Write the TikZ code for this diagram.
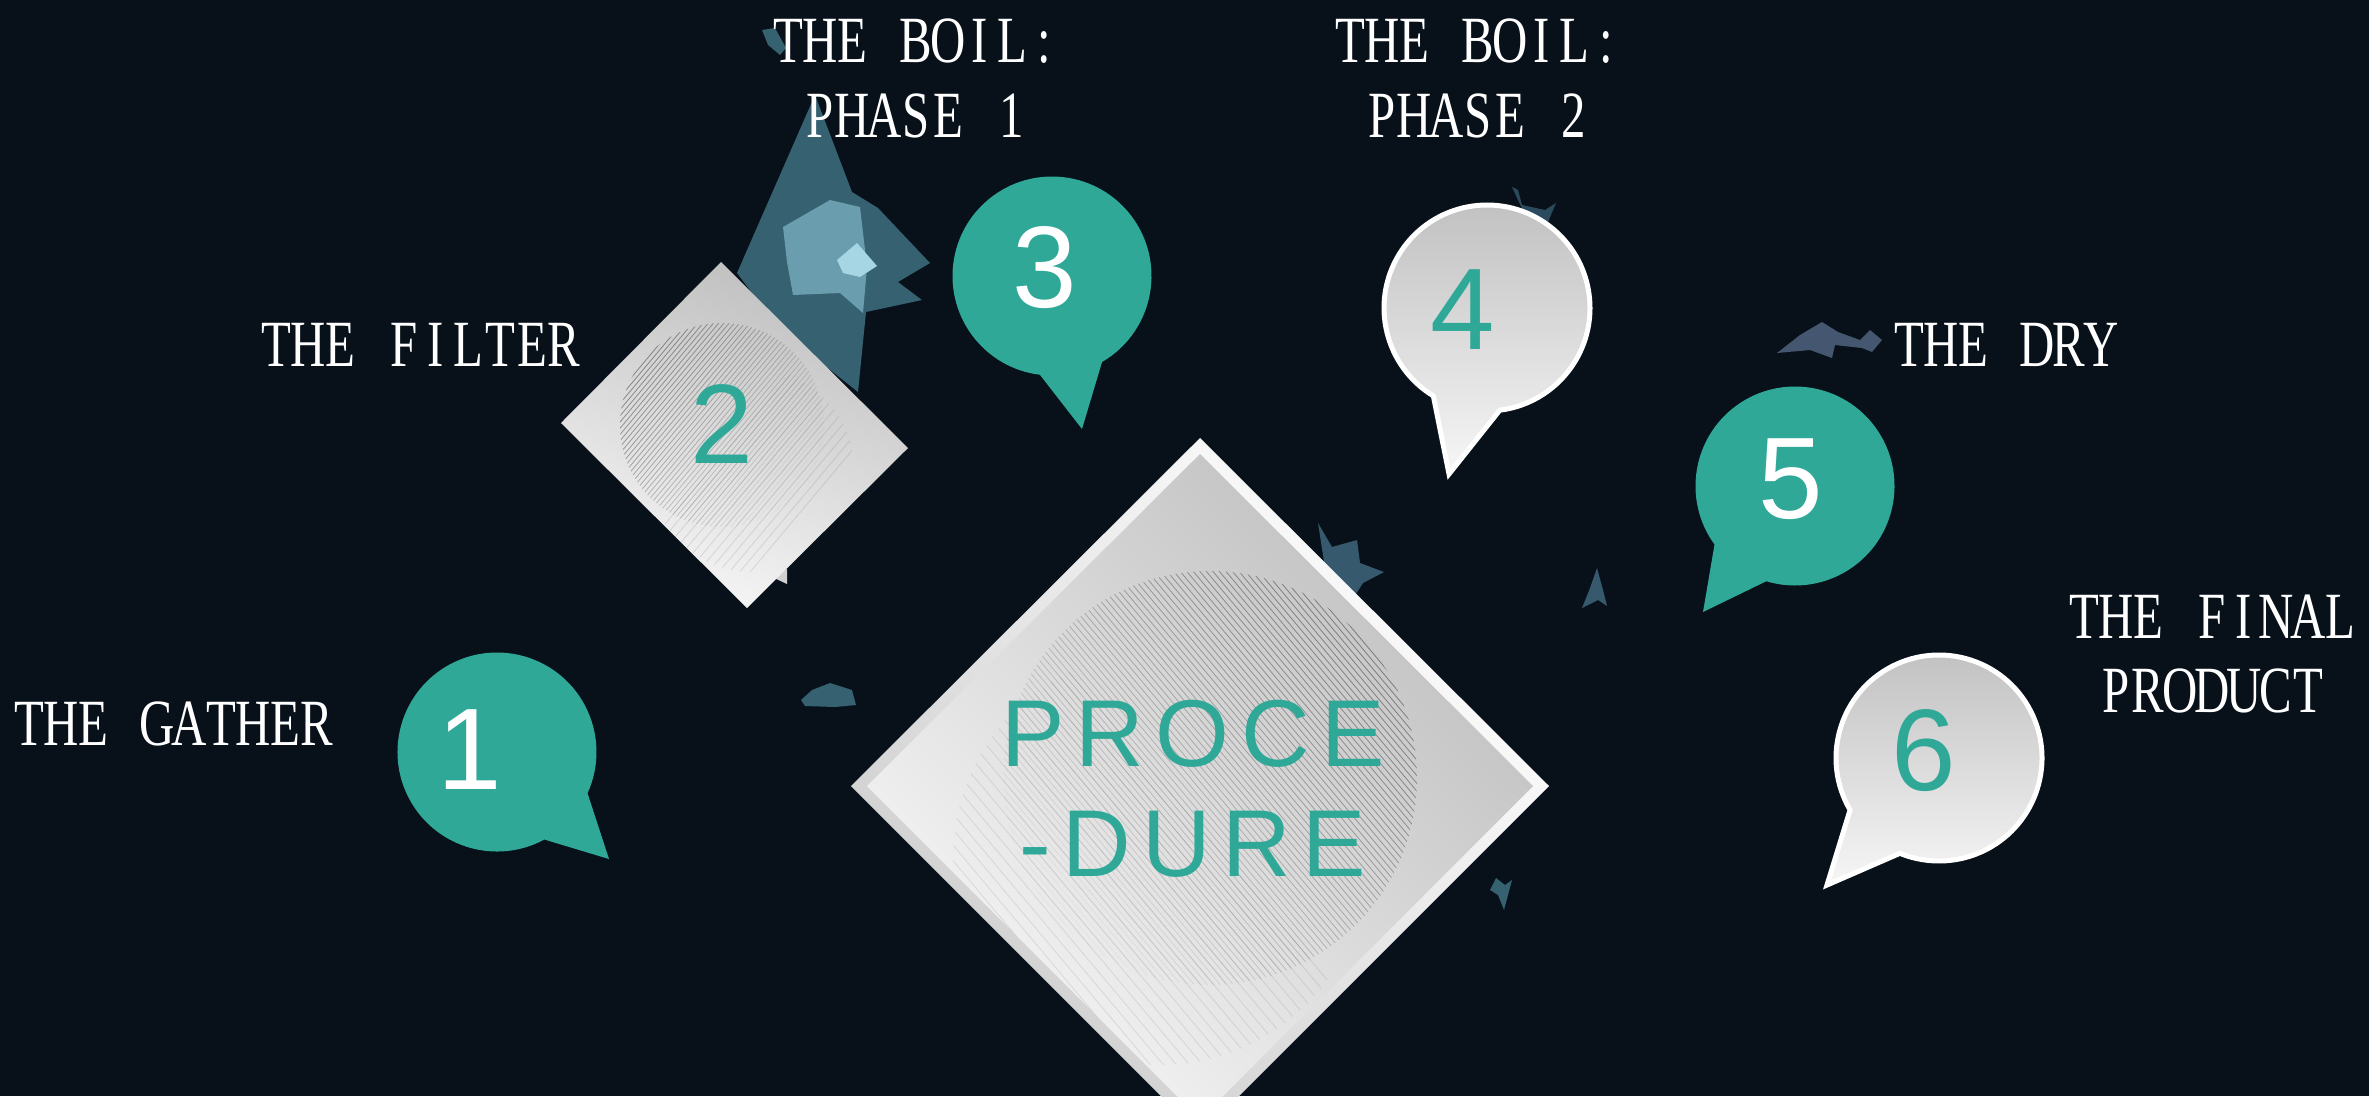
\documentclass[tikz,border=0pt]{standalone}
\usepackage{fontspec}
\usetikzlibrary{calc}
\newfontfamily\labfont[FakeStretch=0.74]{Liberation Serif}
\newfontfamily\numfont{Liberation Sans}
\newfontfamily\procfont[LetterSpace=12]{Liberation Sans}
\definecolor{bg}{HTML}{08111A}
\definecolor{tealc}{HTML}{2FA898}
\definecolor{grayA}{HTML}{BFBFBF}
\definecolor{grayB}{HTML}{F6F6F6}
\definecolor{blobA}{HTML}{3C6A7B}
\definecolor{blobB}{HTML}{6A9DAD}
\definecolor{blobC}{HTML}{A6D6E4}
\definecolor{blobD}{HTML}{36596E}
\definecolor{blobE}{HTML}{445670}
\newcommand\monochars[1]{\monoA#1\monoEnd}
\def\monoEnd{}
\def\monoA#1{\ifx#1\monoEnd\else\makebox[32pt]{#1}\expandafter\monoA\fi}
\begin{document}
\begin{tikzpicture}[x=1pt,y=-1pt,
  lab/.style={text=white, font=\labfont\fontsize{66}{75}\selectfont, inner sep=0pt, anchor=base},
  num/.style={font=\numfont\fontsize{116}{116}\selectfont, inner sep=0pt},
  proc/.style={text=tealc, font=\procfont\fontsize{95}{110}\selectfont, inner sep=0pt, anchor=base},
  hatch/.style={draw=black!60, line width=0.8pt},
  graybub/.style={top color=grayA, bottom color=grayB, draw=white, line width=5pt},
  bub/.style n args={4}{insert path={($(#1)+(#2:#4)$) -- (#1-tip) -- ($(#1)+(#3:#4)$) arc[start angle=#3, end angle={#2+360}, radius=#4] -- cycle}}
]
\fill[bg] (0,0) rectangle (2369,1096);
\useasboundingbox (0,0) rectangle (2369,1096);
\clip (0,0) rectangle (2369,1096);

% decorative blobs
\fill[blobA, opacity=0.9] (815,95) -- (852,192) -- (878,208) -- (930,263) -- (898,282) -- (922,300) -- (866,312) -- (858,392) -- (780,330) -- (737,273) -- cycle;
\fill[blobB] (783,227) -- (830,200) -- (860,207) -- (867,267) -- (863,313) -- (840,293) -- (793,295) -- (787,262) -- cycle;
\fill[blobC] (837,260) -- (857,243) -- (877,266) -- (860,277) -- (843,273) -- cycle;
\fill[blobA, opacity=0.9] (762,30) -- (775,28) -- (786,48) -- (780,55) -- (768,45) -- cycle;
\fill[blobA, opacity=0.9] (801,700) -- (812,690) -- (830,683) -- (852,690) -- (856,705) -- (835,707) -- (805,706) -- cycle;
\fill[blobD] (1318,523) -- (1332,547) -- (1357,540) -- (1360,563) -- (1384,572) -- (1363,583) -- (1352,600) -- (1330,600) -- cycle;
\fill[blobD] (1597,568) -- (1603,590) -- (1607,606) -- (1598,600) -- (1582,608) -- (1590,588) -- cycle;
\fill[blobE] (1777,353) -- (1800,335) -- (1822,322) -- (1838,332) -- (1860,340) -- (1870,330) -- (1882,340) -- (1872,352) -- (1862,348) -- (1835,345) -- (1832,358) -- (1810,350) -- cycle;
\fill[blobD, opacity=0.8] (1512,187) -- (1518,190) -- (1522,205) -- (1545,210) -- (1556,203) -- (1548,222) -- (1525,215) -- cycle;
\fill[blobA, opacity=0.9] (1496,878) -- (1505,885) -- (1512,880) -- (1508,895) -- (1504,910) -- (1498,895) -- (1490,890) -- cycle;

% small diamond (2)
\coordinate (sd-t) at (721,262);
\coordinate (sd-r) at (908,448);
\coordinate (sd-b) at (747,608);
\coordinate (sd-l) at (561,423);
\coordinate (sc) at (722,425);
\fill[black!18] (772,577) -- (787,569) -- (787,584) -- cycle;
\shade[top color=grayA, bottom color=grayB, shading angle=-20] (sd-t) -- (sd-r) -- (sd-b) -- (sd-l) -- cycle;
\begin{scope}
\clip (sc) circle[radius=102];
\begin{scope}[shift={(sc)}, rotate=50]
\foreach \t in {-104,-100,...,104}{
  \pgfmathsetmacro\op{max(0.05,0.75*(1-(\t+104)/210))}
  \draw[hatch, draw opacity=\op] (-130,\t) -- (130,\t);
}
\end{scope}
\end{scope}
\begin{scope}
\clip (sd-t) -- (sd-r) -- (sd-b) -- (sd-l) -- cycle;
\clip ($(sc)+(30,45)$) circle[radius=102];
\begin{scope}[shift={(sc)}, rotate=50]
\foreach \t in {20,28,...,120}{
  \draw[hatch, draw opacity=0.18] (-130,\t) -- (130,\t);
}
\end{scope}
\end{scope}
\node[num, text=tealc, font=\numfont\fontsize{113}{113}\selectfont] (n2) at (722,424) {2};

% speech bubbles
\coordinate (b1) at (497,752); \coordinate (b1-tip) at (609,859);
\coordinate (b3) at (1052,276); \coordinate (b3-tip) at (1082,429);
\coordinate (b4) at (1487,308); \coordinate (b4-tip) at (1449,474);
\coordinate (b5) at (1795,486); \coordinate (b5-tip) at (1703,612);
\coordinate (b6) at (1939,758); \coordinate (b6-tip) at (1827,885);
\fill[tealc, bub={b1}{24.5}{61.6}{99.5}];
\fill[tealc, bub={b3}{59.8}{97}{99.5}];
\fill[tealc, bub={b5}{106.8}{144}{99.5}];
\path[graybub, bub={b4}{82.9}{121.4}{103}];
\path[graybub, bub={b6}{112.3}{149.7}{103}];
\node[num, text=white] (n1) at (470,750) {1};
\node[num, text=white] (n3) at (1045,268) {3};
\node[num, text=tealc] (n4) at (1463,310) {4};
\node[num, text=white] (n5) at (1791,479) {5};
\node[num, text=tealc] (n6) at (1924,751) {6};

% main diamond
\coordinate (md-t) at (1200,438);
\coordinate (md-r) at (1549,786);
\coordinate (md-b) at (1200,1135);
\coordinate (md-l) at (851,786);
\coordinate (mc) at (1210,778);
\shade[top color=white, bottom color=black!20, shading angle=-45] (md-t) -- (md-r) -- (md-b) -- (md-l) -- cycle;
\shade[top color=grayA, bottom color=grayB, shading angle=-45] (1200,454) -- (1533,786) -- (1200,1119) -- (867,786) -- cycle;
\begin{scope}
\clip (mc) circle[radius=207];
\begin{scope}[shift={(mc)}, rotate=-50]
\foreach \t in {-210,-205,...,210}{
  \pgfmathsetmacro\op{max(0.05,0.8*(1-(\t+210)/420))}
  \draw[hatch, draw opacity=\op] (-260,\t) -- (260,\t);
}
\end{scope}
\end{scope}
\begin{scope}
\clip (1200,454) -- (1533,786) -- (1200,1119) -- (867,786) -- cycle;
\clip ($(mc)+(-50,80)$) circle[radius=207];
\begin{scope}[shift={(mc)}, rotate=-50]
\foreach \t in {40,50,...,250}{
  \draw[hatch, draw opacity=0.16] (-260,\t) -- (260,\t);
}
\end{scope}
\end{scope}
\node[proc] (proce) at (1193,766) {PROCE};
\node[proc] (dure) at (1193,876) {-DURE};

% labels
\node[lab] (gather) at (173,745) {\monochars{THE~GATHER}};
\node[lab] (filter) at (420,366) {\monochars{THE~FILTER}};
\node[lab] (boil1a) at (916,62) {\monochars{THE~BOIL:}};
\node[lab] (boil1b) at (916,137) {\monochars{PHASE~1}};
\node[lab] (boil2a) at (1478,62) {\monochars{THE~BOIL:}};
\node[lab] (boil2b) at (1478,137) {\monochars{PHASE~2}};
\node[lab] (dry) at (2005,366) {\monochars{THE~DRY}};
\node[lab] (final1) at (2212,638) {\monochars{THE~FINAL}};
\node[lab] (final2) at (2212,712) {\monochars{PRODUCT}};
\end{tikzpicture}
\end{document}
